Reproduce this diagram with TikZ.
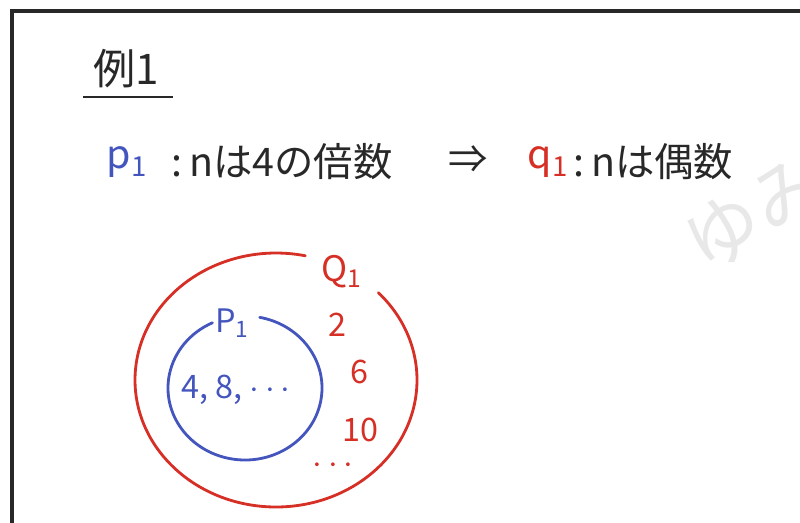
\documentclass[tikz,border=0pt]{standalone}
\usepackage{fontspec}
\setmainfont{Noto Sans CJK JP}
\usetikzlibrary{positioning}
\definecolor{penblue}{RGB}{68,86,190}
\definecolor{penred}{RGB}{214,48,38}
\definecolor{penblack}{RGB}{40,40,40}
\definecolor{markgray}{RGB}{232,232,232}

\begin{document}
\begin{tikzpicture}[x=0.025cm, y=-0.025cm,
  every node/.style={inner sep=1pt, text=penblack},
  big/.style={font=\fontsize{28}{32}\selectfont},
  mid/.style={font=\fontsize{23}{26}\selectfont},
  wmark/.style={text=markgray, font=\fontsize{54}{60}\selectfont, rotate=30, inner sep=0pt},
  setline/.style={line width=2pt, line cap=round},
  frame/.style={line width=2.4pt, draw=penblack}
]
  \useasboundingbox (0,0) rectangle (800,522);
  \clip (0,0) rectangle (800,522);

  % frame and watermark
  \draw[frame] (12,530) -- (12,11) -- (810,11);
  \node[wmark] (mark1) at (724,232) {ゆ};
  \node[wmark] (mark2) at (790,194) {み};

  % heading
  \node[font=\fontsize{30}{34}\selectfont] (ex) at (126,69) {例1};
  \draw[line width=1.5pt, penblack] (83,97) -- (173,97);

  % statement line
  \node[big, text=penblue] (p1) at (127,162) {p\textsubscript{1}};
  \node[big, anchor=west] (pdef) at (170,162) {:\,nは4の倍数};
  \node[big] (imp) at (468,160) {⇒};
  \node[big, text=penred] (q1) at (548,162) {q\textsubscript{1}};
  \node[big, anchor=west] (qdef) at (572,162) {:\,nは偶数};

  % sets
  \draw[setline, penred] (276,380) ++(-43.5:141 and 127)
    arc[start angle=-43.5, end angle=282, x radius=141, y radius=127];
  \draw[setline, penblue] (245,388) ++(-79:77 and 72)
    arc[start angle=-79, end angle=245, x radius=77, y radius=72];

  \node[mid, text=penred, font=\fontsize{25}{28}\selectfont] (Q) at (342,272) {Q\textsubscript{1}};
  \node[mid, text=penblue] (P) at (232,323) {P\textsubscript{1}};
  \node[mid, text=penblue] (pin) at (236,390) {4, 8, $\cdots$};
  \node[mid, text=penred] (two) at (337,325) {2};
  \node[mid, text=penred] (six) at (359,372) {6};
  \node[mid, text=penred] (ten) at (360,430) {10};
  \node[mid, text=penred] (more) at (333,466) {$\cdots$};
\end{tikzpicture}
\end{document}
